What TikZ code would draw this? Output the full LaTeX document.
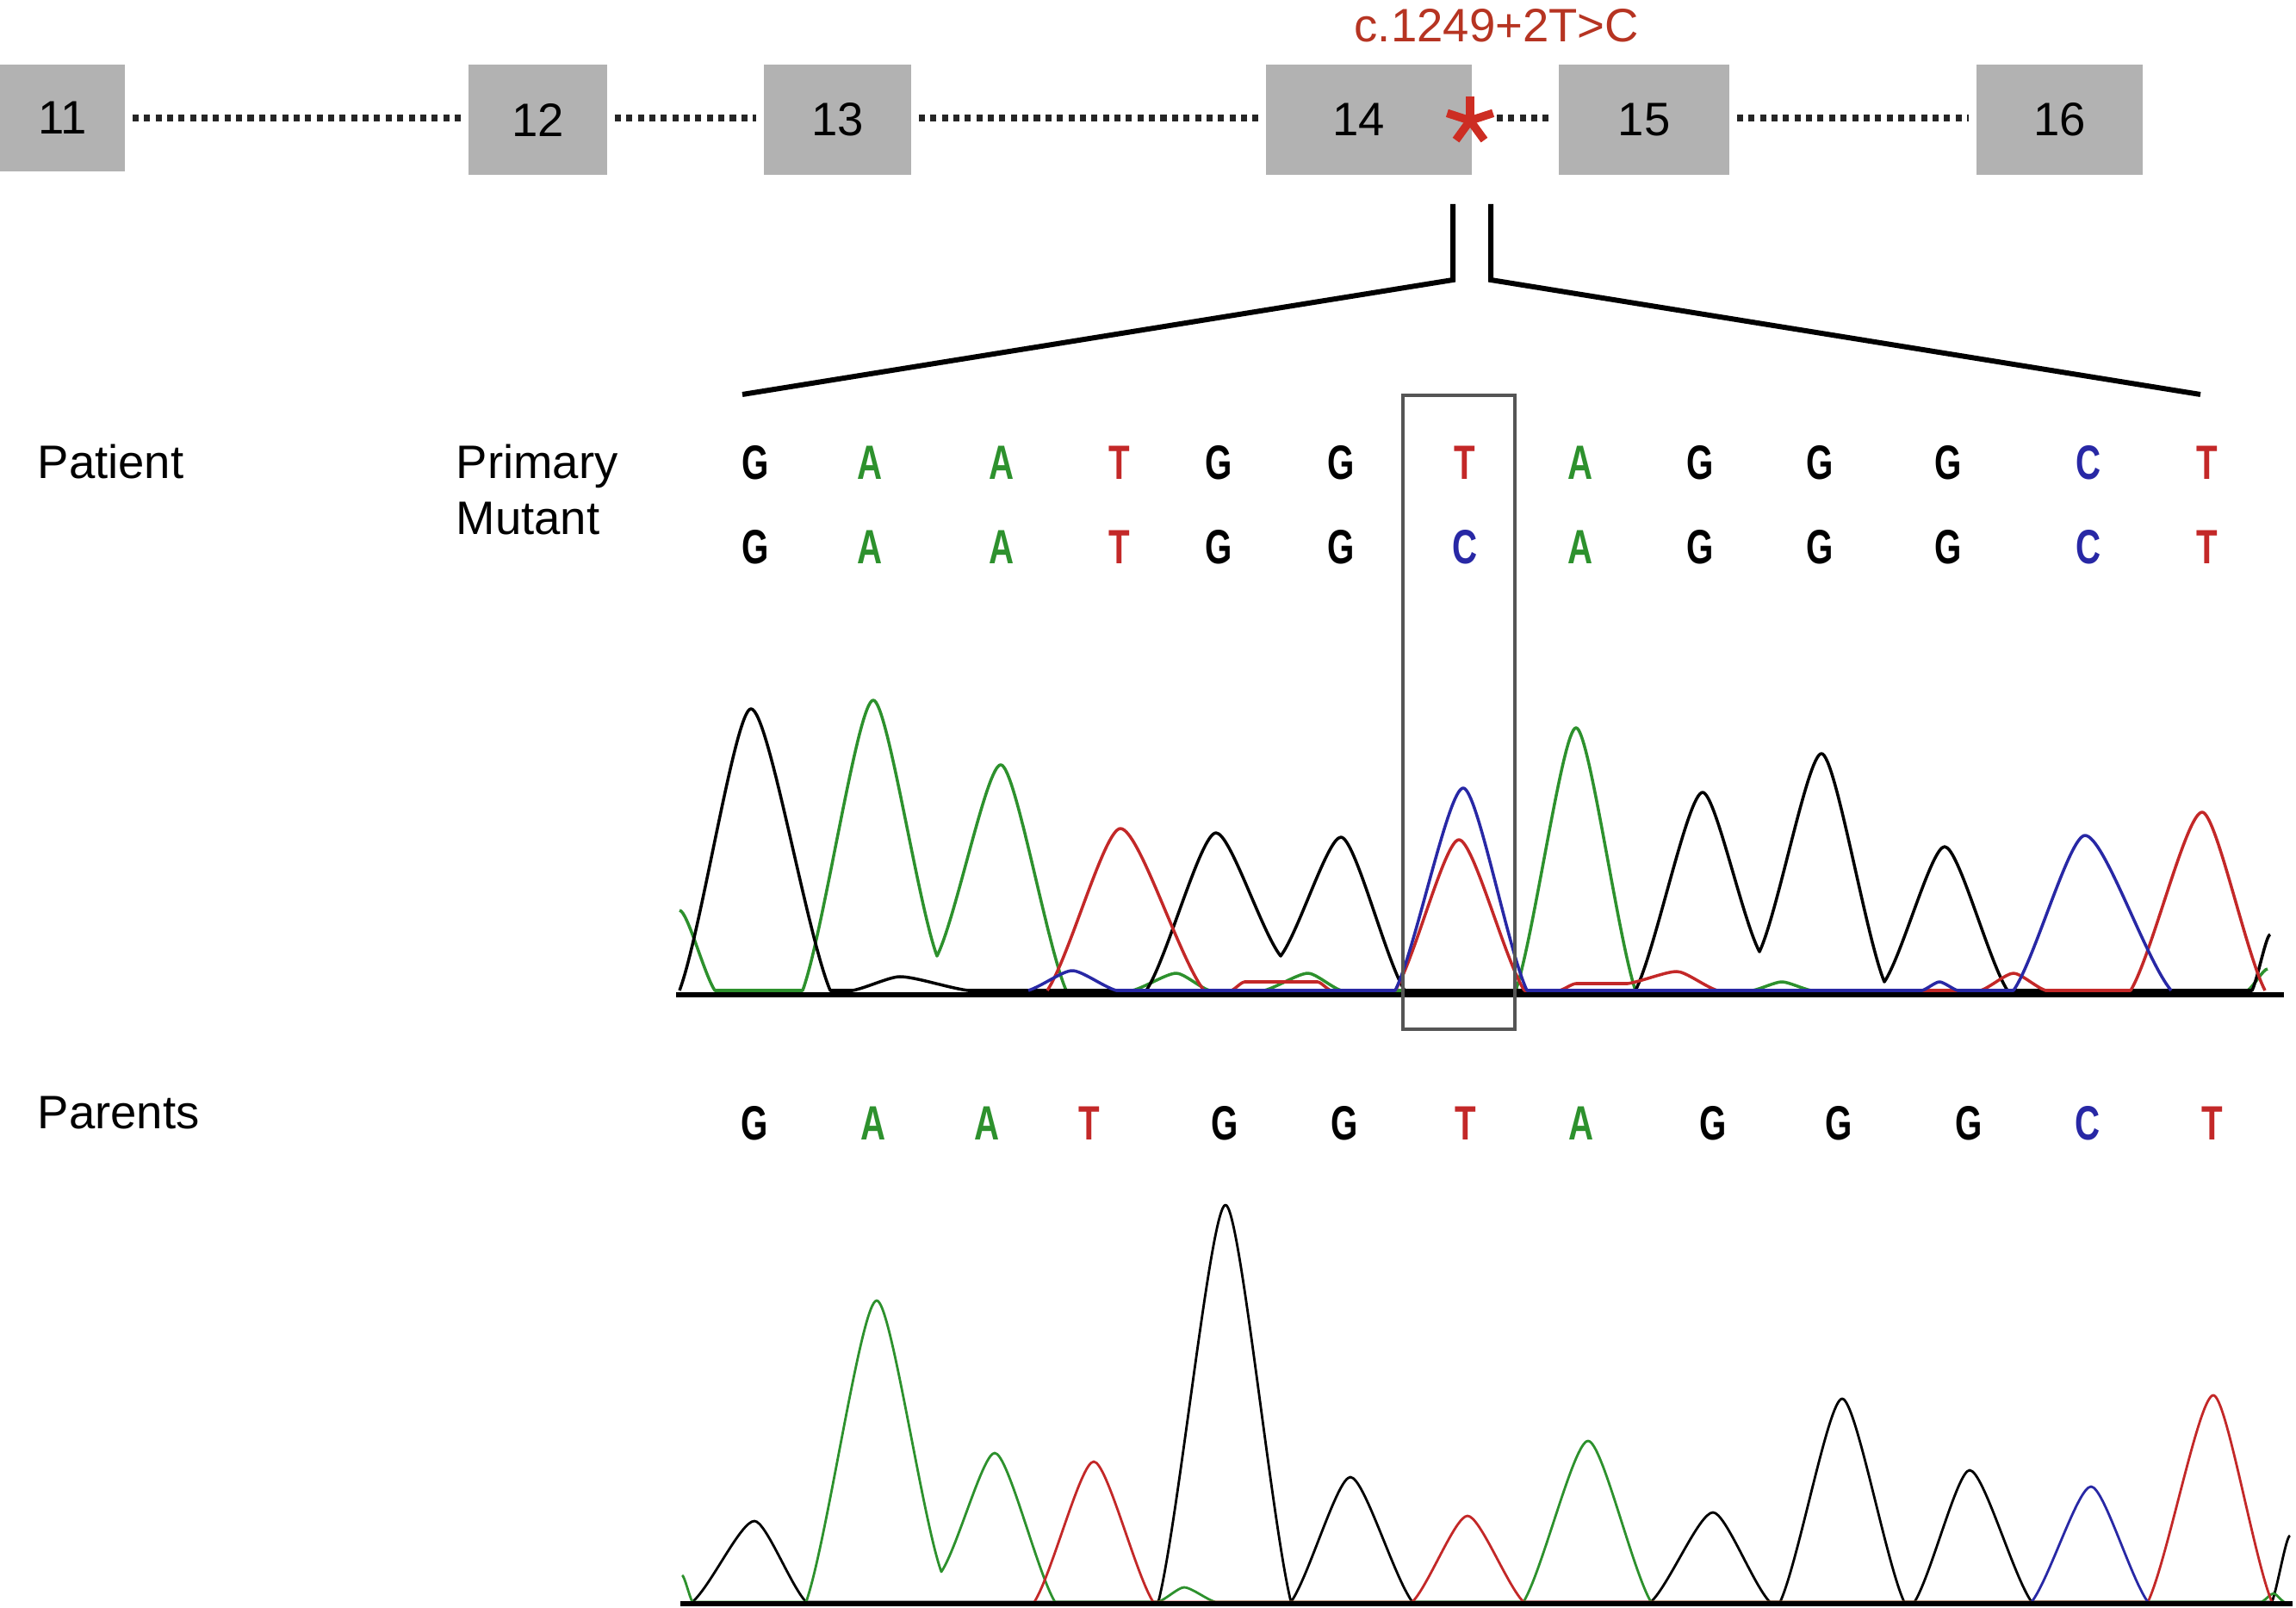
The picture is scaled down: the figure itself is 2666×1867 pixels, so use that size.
\documentclass[tikz,border=0pt]{standalone}
\usepackage{fontspec}
\setmainfont{Liberation Sans}
\usepackage{graphicx}
\definecolor{exgray}{RGB}{178,178,178}
\definecolor{mutred}{RGB}{182,52,34}
\definecolor{astred}{RGB}{205,45,35}
\definecolor{colG}{RGB}{0,0,0}
\definecolor{colA}{RGB}{45,145,45}
\definecolor{colT}{RGB}{195,40,40}
\definecolor{colC}{RGB}{40,40,165}
\definecolor{boxgray}{RGB}{85,85,85}
\newcommand\lblfont{\fontsize{15.5}{18}\selectfont}
\newcommand\sqlet[1]{\scalebox{0.72}[1]{#1}}
\newcommand\ctrace[4]{%
  \draw[trace,#1] (#2,#3) foreach \cx/\cy [remember=\cx as \px (initially #2), remember=\cy as \py (initially #3)] in {#4}
    { .. controls ({\px+ifthenelse(\py<\cy,0.22,0.3)*(\cx-\px)},{ifthenelse(\py<\cy,\py,\py+0.2*(\cy-\py))})
         and ({\cx-ifthenelse(\py<\cy,0.3,0.22)*(\cx-\px)},{ifthenelse(\py<\cy,\cy-0.2*(\cy-\py),\cy)}) .. (\cx,\cy) };}
\begin{document}
\begin{tikzpicture}[x=0.01cm,y=-0.01cm,
  exonbox/.style={fill=exgray, draw=none, inner sep=0pt, font=\lblfont, minimum height=1.27cm},
  intron/.style={draw=black!85, line width=2pt, dash pattern=on 2pt off 1.8pt, shorten <=2.3pt, shorten >=2.3pt},
  bracket/.style={draw=black, line width=1.7pt, line join=miter},
  lbl/.style={font=\lblfont, anchor=base west, inner sep=0pt},
  seqletter/.style={font=\fontsize{15.9}{18}\selectfont\bfseries, anchor=base, inner sep=0pt},
  trace/.style={line width=1pt, line join=round},
  baseln/.style={draw=black, line width=1.5pt},
  mutbox/.style={draw=boxgray, line width=1.1pt},
  astarm/.style={draw=astred, line width=2.7pt}]
\useasboundingbox (0,0) rectangle (2666,1867);

% exons
\node[exonbox, minimum width=1.45cm, minimum height=1.23cm] (e11) at (72.5,137) {11};
\node[exonbox, minimum width=1.61cm] (e12) at (624.5,139) {12};
\node[exonbox, minimum width=1.71cm] (e13) at (972.5,139) {13};
\node[exonbox, minimum width=2.39cm] (e14) at (1589.5,139) {\hspace{-0.24cm}14};
\node[exonbox, minimum width=1.98cm] (e15) at (1909,139) {15};
\node[exonbox, minimum width=1.93cm] (e16) at (2391.5,139) {16};

\draw[intron] (e11.east |- 0,137) -- (e12.west |- 0,137);
\draw[intron] (e12.east |- 0,137) -- (e13.west |- 0,137);
\draw[intron] (e13.east |- 0,137) -- (e14.west |- 0,137);
\draw[intron, shorten <=8pt] (e14.east |- 0,137) -- (e15.west |- 0,137);
\draw[intron] (e15.east |- 0,137) -- (e16.west |- 0,137);

% mutation marker
\coordinate (ast) at (1707,140);
\foreach \a in {-90,-18,54,126,198} \draw[astarm] (ast) -- ++(\a:28);
\node[lbl, text=mutred] (mut) at (1572,49) {c.1249+2T>C};

% zoom bracket
\coordinate (bl0) at (1687,237);
\coordinate (bl1) at (1687,325);
\coordinate (bl2) at (862,458);
\coordinate (br0) at (1731,237);
\coordinate (br1) at (1731,325);
\coordinate (br2) at (2555,458);
\draw[bracket] (bl0) -- (bl1) -- (bl2);
\draw[bracket] (br0) -- (br1) -- (br2);

% labels
\node[lbl] (patient) at (43,555) {Patient};
\node[lbl] (primary) at (529,555) {Primary};
\node[lbl] (mutant) at (529,620) {Mutant};
\node[lbl] (parents) at (43,1310) {Parents};

% sequences
\foreach \x/\b [count=\i] in {877/G,1010/A,1163/A,1300/T,1415/G,1557/G,1701/T,1835/A,1974/G,2113/G,2262/G,2425/C,2563/T}
  \node[seqletter, text=col\b] (p\i) at (\x,557) {\sqlet{\b}};
\foreach \x/\b [count=\i] in {877/G,1010/A,1163/A,1300/T,1415/G,1557/G,1701/C,1835/A,1974/G,2113/G,2262/G,2425/C,2563/T}
  \node[seqletter, text=col\b] (m\i) at (\x,655) {\sqlet{\b}};
\foreach \x/\b [count=\i] in {876/G,1014/A,1146/A,1265/T,1422/G,1561/G,1702/T,1836/A,1989/G,2135/G,2286/G,2424/C,2569/T}
  \node[seqletter, text=col\b] (q\i) at (\x,1323) {\sqlet{\b}};

% patient chromatogram
\ctrace{colA}{789}{1057}{830/1150, 932/1150, 1014/813, 1088/1110, 1162/888, 1238/1150, 1315/1150, 1366/1130, 1404/1150, 1468/1150, 1519/1130, 1557/1150, 1760/1150, 1830/845, 1899/1150, 2035/1150, 2069/1140, 2103/1150, 2610/1150, 2633/1125}
\ctrace{colG}{789}{1150}{872/823, 964/1150, 990/1150, 1045/1134, 1124/1150, 1331/1150, 1412/967, 1487/1110, 1557/972, 1631/1150, 1899/1150, 1977/920, 2043/1105, 2115/875, 2188/1140, 2258/983, 2331/1150, 2615/1150, 2636/1085}
\ctrace{colT}{1216}{1150}{1301/962, 1398/1150, 1430/1150, 1445/1140, 1530/1140, 1545/1150, 1620/1150, 1694/975, 1770/1150, 1811/1150, 1830/1142, 1890/1142, 1947/1128, 1994/1150, 2300/1150, 2338/1130, 2375/1150, 2474/1150, 2557/943, 2630/1150}
\ctrace{colC}{1194}{1150}{1245/1127, 1296/1150, 1620/1150, 1699/915, 1773/1150, 2232/1150, 2252/1140, 2273/1150, 2338/1150, 2421/970, 2521/1150}
\coordinate (pb0) at (785,1155);
\coordinate (pb1) at (2652,1155);
\draw[baseln] (pb0) -- (pb1);

% mutated-position box
\coordinate (mb0) at (1629,459);
\coordinate (mb1) at (1759,1195);
\draw[mutbox] (mb0) rectangle (mb1);

% parents chromatogram
\ctrace{colG, line width=0.8pt}{804}{1860}{876/1766, 936/1860, 1345/1860, 1423/1399, 1499/1860, 1568/1715, 1640/1860, 1917/1860, 1989/1756, 2055/1860, 2067/1860, 2139/1624, 2211/1860, 2223/1860, 2287/1707, 2359/1860, 2638/1860, 2659/1783}
\ctrace{colA, line width=0.8pt}{792}{1829}{804/1860, 936/1860, 1018/1510, 1093/1825, 1155/1687, 1225/1860, 1345/1860, 1375/1843, 1411/1860, 1769/1860, 1844/1673, 1917/1860, 2626/1860, 2640/1850, 2652/1860}
\ctrace{colT, line width=0.8pt}{1201}{1860}{1270/1697, 1339/1860, 1640/1860, 1704/1760, 1769/1860, 2494/1860, 2570/1620, 2638/1860}
\ctrace{colC, line width=0.8pt}{2359}{1860}{2428/1726, 2494/1860}
\coordinate (qb0) at (790,1862);
\coordinate (qb1) at (2662,1862);
\draw[baseln, line width=1.7pt] (qb0) -- (qb1);
\end{tikzpicture}
\end{document}
